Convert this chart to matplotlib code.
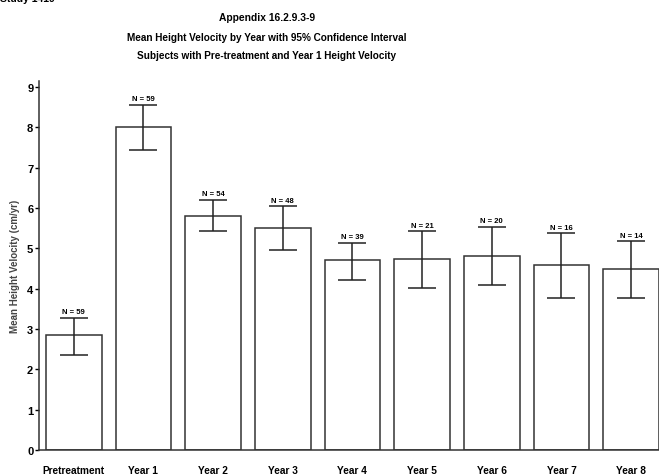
import matplotlib
matplotlib.use("Agg")
import matplotlib.pyplot as plt
import numpy as np

categories = ["Pretreatment", "Year 1", "Year 2", "Year 3", "Year 4",
              "Year 5", "Year 6", "Year 7", "Year 8"]
means = [2.84, 8.00, 5.81, 5.51, 4.70, 4.73, 4.81, 4.58, 4.48]
upper = [3.28, 8.56, 6.21, 6.05, 5.14, 5.43, 5.54, 5.38, 5.18]
lower = [2.36, 7.44, 5.43, 4.95, 4.22, 4.03, 4.08, 3.78, 3.78]
counts = [59, 59, 54, 48, 39, 21, 20, 16, 14]

plt.rcParams["font.family"] = ["Liberation Sans", "DejaVu Sans"]
plt.rcParams["font.weight"] = "bold"

fig = plt.figure(figsize=(6.59, 4.77), dpi=100)
ax = fig.add_axes([0.059, 0.0545, 0.941, 0.7735])

x = np.arange(len(categories))
means = np.array(means)
yerr = [means - np.array(lower), np.array(upper) - means]

ax.bar(x, means, width=0.8, color="white", edgecolor="#333333", linewidth=1.1)
ax.errorbar(x, means, yerr=yerr, fmt="none", ecolor="#222222",
            elinewidth=1.1, capsize=10, capthick=1.1)

for xi, up, n in zip(x, upper, counts):
    ax.text(xi, up + 0.06, f"N = {n}", ha="center", va="bottom",
            fontsize=5.5, fontweight="bold")

ax.set_xlim(-0.5, 8.4)
ax.set_ylim(0, 9.15)
ax.set_yticks(range(0, 10))
ax.set_xticks(x)
ax.set_xticklabels(categories, fontsize=7.3, fontweight="bold")
ax.tick_params(axis="x", length=0, pad=11)
ax.tick_params(axis="y", length=3, width=1, labelsize=8, pad=1)
for lbl in ax.get_yticklabels():
    lbl.set_fontweight("bold")
ax.spines["top"].set_visible(False)
ax.spines["right"].set_visible(False)
for s in ("left", "bottom"):
    ax.spines[s].set_color("#333333")
    ax.spines[s].set_linewidth(1.1)
ax.set_ylabel("Mean Height Velocity (cm/yr)", fontsize=7, fontweight="bold",
              color="#444444", labelpad=5)

fig.text(0.405, 0.962, "Appendix 16.2.9.3-9", ha="center", va="center",
         fontsize=7.4, fontweight="bold")
fig.text(0.405, 0.920, "Mean Height Velocity by Year with 95% Confidence Interval",
         ha="center", va="center", fontsize=7.2, fontweight="bold")
fig.text(0.405, 0.883, "Subjects with Pre-treatment and Year 1 Height Velocity",
         ha="center", va="center", fontsize=7.2, fontweight="bold")
fig.text(0.0, 1.003, "Study 1419", ha="left", va="center",
         fontsize=7.5, fontweight="bold")

fig.savefig("out.png", dpi=100)
